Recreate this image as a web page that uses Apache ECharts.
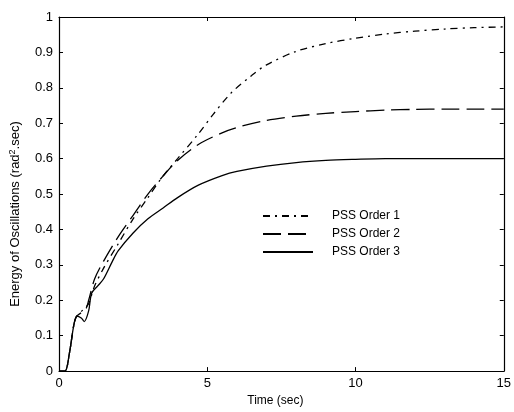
<!DOCTYPE html>
<html>
<head>
<meta charset="utf-8">
<script src="https://cdn.jsdelivr.net/npm/echarts@6/dist/echarts.min.js"></script>
<style>
  html, body { margin: 0; padding: 0; background: #fff; }
  #chart { width: 514px; height: 412px; }
</style>
</head>
<body>
<div id="chart"></div>
<script>
// time (sec) / energy values
const order1 = [
  [0, 0], [0.2, 0], [0.35, 0.05], [0.5, 0.13], [0.6, 0.155], [0.9, 0.18], [1.0, 0.19],
  [1.2, 0.24], [1.5, 0.29], [2, 0.36], [2.5, 0.43], [3, 0.49], [3.5, 0.55],
  [4, 0.6], [4.7, 0.67], [5.2, 0.725], [5.8, 0.785], [6.5, 0.835], [7, 0.865],
  [8, 0.903], [9, 0.925], [10, 0.94], [11, 0.952], [12, 0.96], [13, 0.966],
  [14, 0.97], [15, 0.972]
];
const order2 = [
  [0, 0], [0.2, 0], [0.35, 0.05], [0.5, 0.13], [0.6, 0.155], [0.9, 0.175], [1.0, 0.2],
  [1.2, 0.26], [1.5, 0.31], [2, 0.38], [2.5, 0.44], [3, 0.5], [3.5, 0.55],
  [4, 0.595], [4.7, 0.64], [5.5, 0.673], [6, 0.688], [7, 0.708], [8, 0.72],
  [9, 0.728], [10, 0.733], [11, 0.737], [12, 0.739], [13, 0.74], [14, 0.74],
  [15, 0.74]
];
const order3 = [
  [0, 0], [0.2, 0], [0.35, 0.05], [0.5, 0.13], [0.6, 0.155], [0.75, 0.15],
  [0.85, 0.14], [1.0, 0.17], [1.1, 0.22], [1.3, 0.24], [1.5, 0.26], [1.8, 0.31],
  [2, 0.34], [2.5, 0.39], [3, 0.43], [3.5, 0.46], [4, 0.49], [4.7, 0.525],
  [5.5, 0.552], [6, 0.564], [7, 0.579], [8, 0.589], [9, 0.595], [10, 0.598],
  [11, 0.6], [12, 0.6], [13, 0.6], [14, 0.6], [15, 0.6]
];
const seriesNames = ["PSS Order 1", "PSS Order 2", "PSS Order 3"];

const chart = echarts.init(document.getElementById("chart"));
const font = "Liberation Sans, Arial, sans-serif";
const axisBase = {
  axisLine: { show: true, onZero: false, lineStyle: { color: "#000", width: 1.2 } },
  axisTick: { show: true, inside: true, length: 4, lineStyle: { color: "#000" } },
  splitLine: { show: false },
};

chart.setOption({
  animation: false,
  backgroundColor: "#fff",
  grid: { left: 59, right: 8, top: 17, bottom: 40 },
  legend: {
    orient: "vertical",
    left: 257,
    top: 205,
    itemWidth: 50,
    itemHeight: 14,
    itemGap: 6,
    data: seriesNames,
    itemStyle: { opacity: 0 },
    textStyle: { fontFamily: font, fontSize: 12, color: "#000", padding: [0, 0, 0, 14] },
  },
  xAxis: [
    {
      type: "value", min: 0, max: 15, interval: 5,
      ...axisBase,
      axisLabel: { color: "#000", fontFamily: font, fontSize: 13, margin: 6 },
      name: "Time (sec)", nameLocation: "middle", nameGap: 20,
      nameTextStyle: { color: "#000", fontFamily: font, fontSize: 12, padding: [0, 12, 0, 0] },
    },
    {
      type: "value", position: "top", min: 0, max: 15, interval: 5,
      ...axisBase, axisLabel: { show: false },
    },
  ],
  yAxis: [
    {
      type: "value", min: 0, max: 1, interval: 0.1,
      ...axisBase,
      axisLabel: {
        color: "#000", fontFamily: font, fontSize: 13, margin: 6,
        formatter: (v) => String(Math.round(v * 10) / 10),
      },
      name: "{n|Energy of Oscillations (rad}{s|2}{n|.sec)}",
      nameLocation: "middle", nameGap: 36, nameRotate: 90,
      nameTextStyle: {
        padding: [0, 40, 0, 0],
        rich: {
          n: { color: "#000", fontFamily: font, fontSize: 13 },
          s: { color: "#000", fontFamily: font, fontSize: 9, verticalAlign: "top", padding: [0, 0, 6, 0] },
        },
      },
    },
    {
      type: "value", position: "right", min: 0, max: 1, interval: 0.1,
      ...axisBase, axisLabel: { show: false },
    },
  ],
  series: [
    {
      name: seriesNames[0], type: "line", data: order1, symbol: "none", smooth: 0.3,
      lineStyle: { color: "#000", width: 1.3, type: [7, 5, 2, 5] },
      itemStyle: { color: "#000" },
    },
    {
      name: seriesNames[1], type: "line", data: order2, symbol: "none", smooth: 0.3,
      lineStyle: { color: "#000", width: 1.3, type: [18, 7] },
      itemStyle: { color: "#000" },
    },
    {
      name: seriesNames[2], type: "line", data: order3, symbol: "none", smooth: 0.3,
      lineStyle: { color: "#000", width: 1.3, type: "solid" },
      itemStyle: { color: "#000" },
    },
  ],
});
</script>
</body>
</html>
